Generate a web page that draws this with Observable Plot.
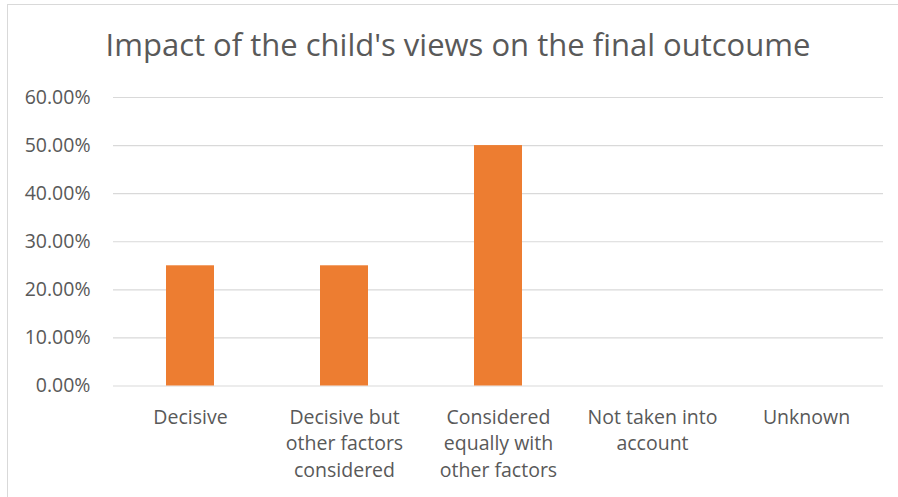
<!DOCTYPE html>
<html>
<head>
<meta charset="utf-8">
<script src="https://cdn.jsdelivr.net/npm/d3@7"></script>
<script src="https://cdn.jsdelivr.net/npm/@observablehq/plot@0.6"></script>
<style>
  html, body { margin: 0; padding: 0; background: #fff; overflow: hidden; }
  #wrap { position: relative; width: 898px; height: 497px; overflow: hidden; font-family: "Open Sans", sans-serif; }
  #frame { position: absolute; left: 7px; top: 4px; width: 910px; height: 510px; border: 1px solid #d9d9d9; box-sizing: border-box; }
  #title { position: absolute; left: 7px; width: 902px; top: 0; height: 70px; text-align: center; color: #595959; font-size: 31px; line-height: 1; }
  #title span { position: absolute; left: 0; right: 0; top: 29px; }
  #chart { position: absolute; left: 0; top: 70px; }
</style>
</head>
<body>
<div id="wrap">
  <div id="frame"></div>
  <div id="title"><span>Impact of the child's views on the final outcoume</span></div>
  <div id="chart"></div>
</div>
<script>
const categories = ["Decisive", "Decisive but other factors considered", "Considered equally with other factors", "Not taken into account", "Unknown"];
const tickLabels = ["Decisive", "Decisive but\nother factors\nconsidered", "Considered\nequally with\nother factors", "Not taken into\naccount", "Unknown"];
const values = [0.25, 0.25, 0.50, 0, 0];
const yTicks = [0, 0.1, 0.2, 0.3, 0.4, 0.5, 0.6];

const data = categories.map((c, i) => ({category: c, value: values[i]}));
const labelOf = new Map(categories.map((c, i) => [c, tickLabels[i]]));

const chart = Plot.plot({
  width: 898,
  height: 427,
  marginLeft: 113,
  marginRight: 15,
  marginTop: 27,
  marginBottom: 111.5,
  style: {fontFamily: "'Open Sans', sans-serif", color: "#595959", background: "transparent", overflow: "visible"},
  x: {domain: categories, paddingInner: 0.688, paddingOuter: 0.344, label: null},
  y: {domain: [0, 0.6], label: null},
  marks: [
    Plot.ruleY(yTicks, {stroke: "#d9d9d9", strokeWidth: 1.2}),
    Plot.barY(data, {x: "category", y: "value", fill: "#ED7D31"}),
    Plot.axisY({ticks: yTicks, tickSize: 0, tickPadding: 23, tickFormat: d => (d * 100).toFixed(2) + "%", fontSize: 19.5, fill: "#595959", label: null}),
    Plot.axisX({tickSize: 0, tickPadding: 19, tickFormat: d => labelOf.get(d), fontSize: 19.5, lineHeight: 1.36, fill: "#595959", label: null})
  ]
});
document.getElementById("chart").appendChild(chart);
</script>
</body>
</html>
